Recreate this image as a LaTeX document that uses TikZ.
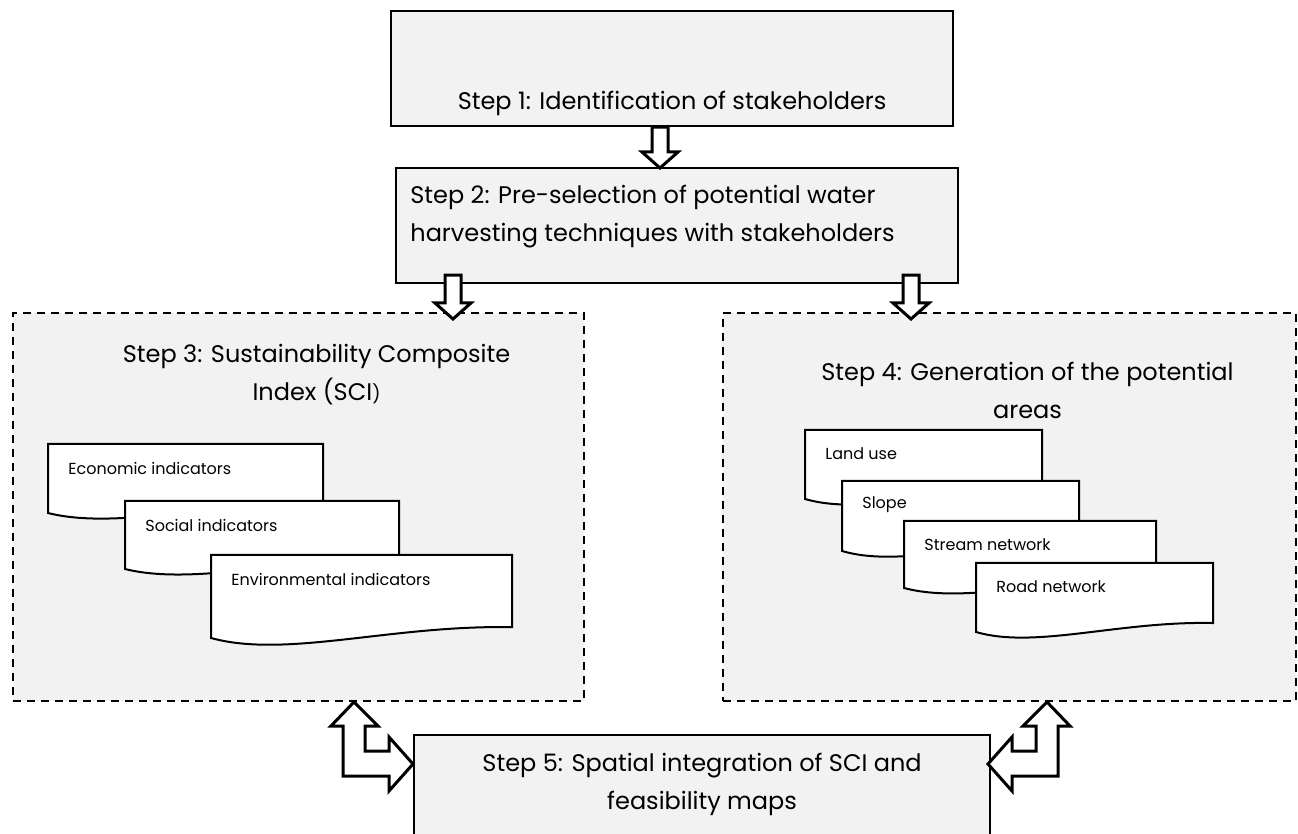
\documentclass[tikz,border=0pt]{standalone}
\usepackage{fontspec}
\setmainfont{Poppins}
\usepackage{tikz}
\usetikzlibrary{positioning,calc}
\definecolor{ink}  {HTML}{000000}
\definecolor{paper}{HTML}{F2F2F2}
\tikzset{
  >=stealth,
  % --- nodes
  stepbox/.style  = {draw=ink, fill=paper, line width=1.1pt, inner sep=0pt, anchor=north west},
  stagebox/.style = {stepbox, line width=1pt, dash pattern=on 4pt off 3pt},
  steptext/.style = {font=\fontsize{12}{19}\selectfont, inner sep=0pt, text=ink},
  doctext/.style  = {font=\fontsize{8}{10}\selectfont, inner sep=0pt, anchor=west, text=ink},
  docline/.style  = {draw=ink, fill=white, line width=1pt},
  % --- arrows
  blockarr/.style = {draw=ink, fill=white, line width=1.5pt, line join=miter},
}
% sheet with a wavy lower edge: name, x0, y0, x1, y of lower left corner, text
\newcommand{\docsheet}[6]{%
  \pgfmathsetmacro{\dw}{#4-#2}
  \pgfmathsetmacro{\dh}{#5-#3}
  \filldraw[docline] (#2,#3) -- (#4,#3) -- (#4,{#5-0.13*\dh})
    .. controls ({#2+0.6*\dw},{#5-0.16*\dh}) and ({#2+0.25*\dw},{#5+0.25*\dh}) .. (#2,#5) -- cycle;
  \node[doctext] (#1) at ({#2+20},{#3+24}) {#6};
}
% hollow arrow pointing down: from, tip
\newcommand{\blockdown}[2]{%
  \draw[blockarr] ($(#1)+(-8,0)$) -- ($(#2)+(-8,-16)$) -- ($(#2)+(-18,-16)$) -- (#2)
    -- ($(#2)+(18,-16)$) -- ($(#2)+(8,-16)$) -- ($(#1)+(8,0)$) -- cycle;
}
% hollow bent arrow with two heads: upper tip, side (1 right, -1 left)
\newcommand{\bentarrow}[2]{%
  \draw[blockarr] (#1) -- ++({#2*24},24) -- ++({-#2*13},0) -- ++(0,25) -- ++({#2*24},0)
    -- ++(0,-14) -- ++({#2*24},27) -- ++({-#2*24},27) -- ++(0,-15) -- ++({-#2*46},0)
    -- ++(0,-50) -- ++({-#2*12},0) -- cycle;
}

\begin{document}
\begin{tikzpicture}[x=0.5pt,y=-0.5pt]
  \clip (0,0) rectangle (1298,834);
  \fill[white] (0,0) rectangle (1298,834);
  % boxes
  \node[stepbox, minimum width=281pt, minimum height=57.5pt] (s1) at (390,10) {};
  \node[stepbox, minimum width=281pt, minimum height=57.5pt] (s2) at (395,167) {};
  \node[stagebox, minimum width=285.5pt, minimum height=194pt] (sci) at (12,312) {};
  \node[stagebox, minimum width=286.5pt, minimum height=194pt] (geo) at (722,312) {};
  \node[stepbox, minimum width=288pt, minimum height=60pt] (s5) at (413,734) {};
  % indicator sheets
  \docsheet{eco}{48}{444}{323}{513}{Economic indicators}
  \docsheet{soc}{125}{501}{399}{569}{Social indicators}
  \docsheet{env}{211}{555}{512}{638}{Environmental indicators}
  % map layers
  \docsheet{land}{805}{430}{1042}{499}{Land use}
  \docsheet{slope}{842}{481}{1079}{551}{Slope}
  \docsheet{stream}{904}{521}{1156}{588}{Stream network}
  \docsheet{road}{976}{563}{1213}{632}{Road network}
  % labels
  \node[steptext, anchor=base] (t1) at ($(s1.south)+(0,-18)$) {Step 1: Identification of stakeholders};
  \node[steptext, anchor=west, align=left] (t2) at ($(s2.west)+(15,-9)$)
    {Step 2: Pre-selection of potential water\\harvesting techniques with stakeholders};
  \node[steptext, align=center] (h3) at ($(sci.north)+(18,63)$)
    {Step 3: Sustainability Composite\\Index (SCI{\fontsize{9}{9}\selectfont)}};
  \node[steptext, align=center] (h4) at ($(geo.north)+(18,78)$)
    {Step 4: Generation of the potential\\areas};
  \node[steptext, align=center] (t5) at ($(s5.north)+(0,50)$)
    {Step 5: Spatial integration of SCI and\\feasibility maps};
  % arrows
  \coordinate (a1) at (660,168);
  \coordinate (a3) at (453,319);
  \coordinate (a4) at (911,319);
  \blockdown{a1 |- s1.south}{a1}
  \blockdown{$(a3 |- s2.south)+(0,-9)$}{a3}
  \blockdown{$(a4 |- s2.south)+(0,-9)$}{a4}
  \coordinate (u3) at ($(sci.south west)+(342,0)$);
  \coordinate (u4) at ($(geo.south west)+(325,0)$);
  \bentarrow{u3}{1}
  \bentarrow{u4}{-1}
\end{tikzpicture}
\end{document}
